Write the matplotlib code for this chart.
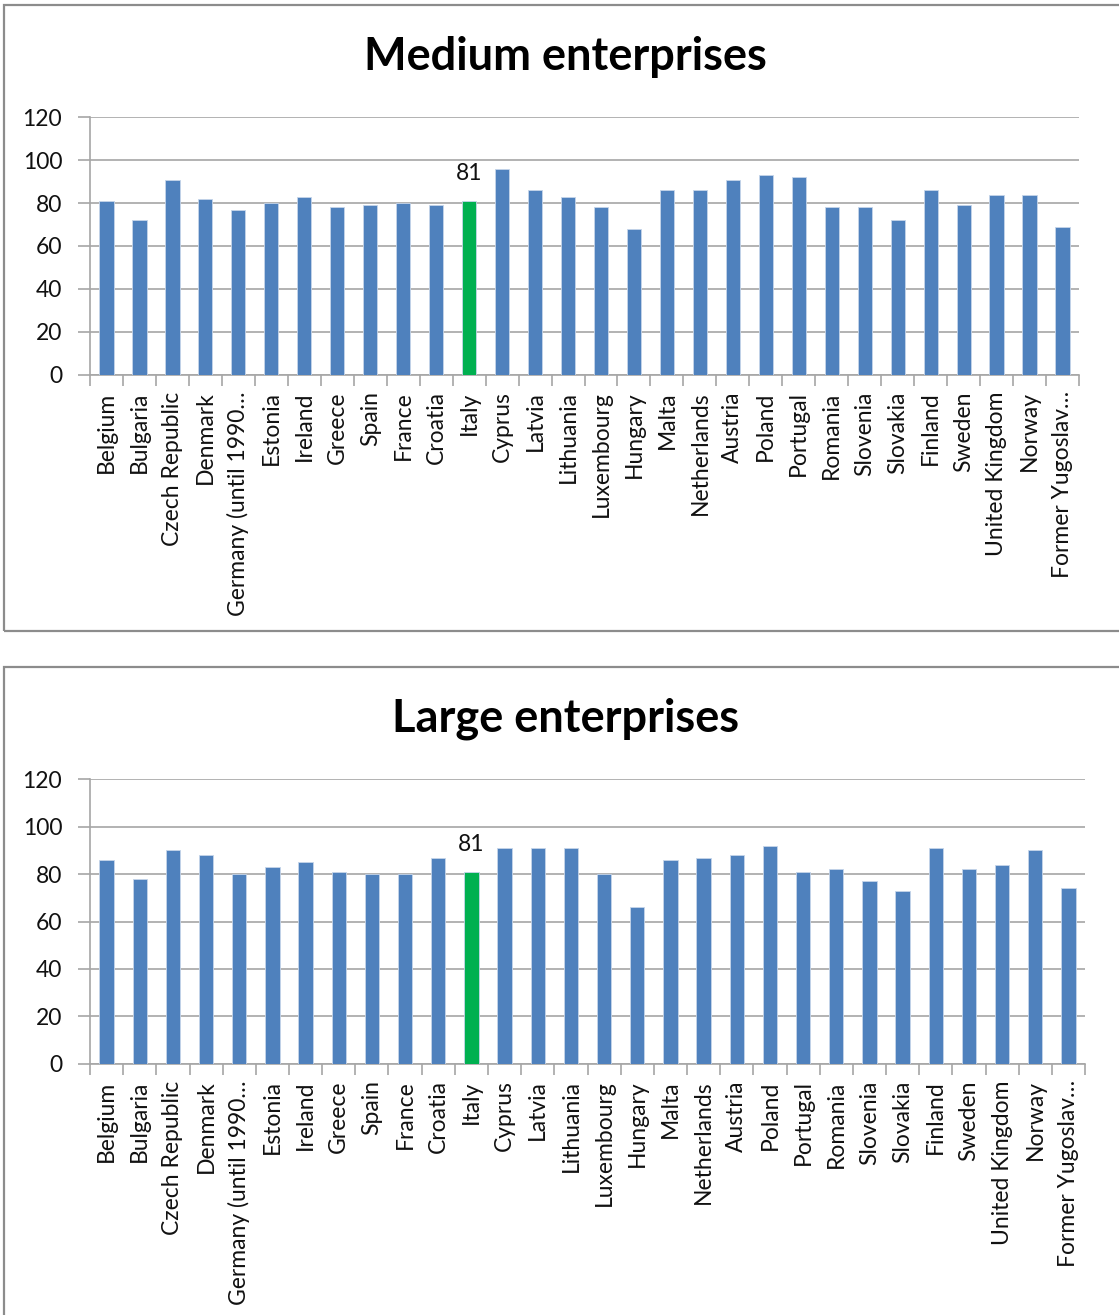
import matplotlib
matplotlib.use("Agg")
import matplotlib.pyplot as plt
from matplotlib.patches import Rectangle
import numpy as np

# ---- data -------------------------------------------------------------
countries = ["Belgium", "Bulgaria", "Czech Republic", "Denmark",
             "Germany (until 1990\u2026", "Estonia", "Ireland", "Greece",
             "Spain", "France", "Croatia", "Italy", "Cyprus", "Latvia",
             "Lithuania", "Luxembourg", "Hungary", "Malta", "Netherlands",
             "Austria", "Poland", "Portugal", "Romania", "Slovenia",
             "Slovakia", "Finland", "Sweden", "United Kingdom", "Norway",
             "Former Yugoslav\u2026"]

medium = [81, 72, 91, 82, 77, 80, 83, 78, 79, 80, 79, 81, 96, 86, 83,
          78, 68, 86, 86, 91, 93, 92, 78, 78, 72, 86, 79, 84, 84, 69]
large = [86, 78, 90, 88, 80, 83, 85, 81, 80, 80, 87, 81, 91, 91, 91,
         80, 66, 86, 87, 88, 92, 81, 82, 77, 73, 91, 82, 84, 90, 74]

highlight = "Italy"
y_ticks = [0, 20, 40, 60, 80, 100, 120]

# ---- style ------------------------------------------------------------
BLUE = "#4f81bd"
GREEN = "#00b050"
GRID = "#a6a6a6"
FRAME = "#8c8c8c"
TEXT = "#111111"
FONT = ["Lato", "DejaVu Sans"]

plt.rcParams["font.family"] = FONT

W, H = 1119, 1315
fig = plt.figure(figsize=(W / 100, H / 100), dpi=100)


def px_rect(x0, y0, x1, y1):
    """Axes rectangle in figure fractions from pixel edges (top-left origin)."""
    return [x0 / W, 1 - y1 / H, (x1 - x0) / W, (y1 - y0) / H]


def panel(frame_top, frame_bottom, title, title_y, ax_box, values):
    # outer chart frame
    fig.patches.append(Rectangle((4 / W, 1 - frame_bottom / H),
                                 (W + 10) / W, (frame_bottom - frame_top) / H,
                                 transform=fig.transFigure, fill=False,
                                 edgecolor=FRAME, linewidth=1.6, zorder=0))
    fig.text(0.505, 1 - title_y / H, title, ha="center", va="center",
             fontsize=32.5, fontweight="bold", color="black")

    ax = fig.add_axes(px_rect(*ax_box))
    x = np.arange(len(countries))
    colors = [GREEN if c == highlight else BLUE for c in countries]
    ax.bar(x, values, width=0.43, color=colors, edgecolor="#c6d5ea",
           linewidth=0.6, zorder=3)

    ax.set_xlim(-0.5, len(countries) - 0.5)
    ax.set_ylim(0, 120)
    ax.set_yticks(y_ticks)
    ax.yaxis.grid(True, color=GRID, linewidth=1.2, zorder=0)
    ax.tick_params(axis="y", length=9, width=1.2, color=GRID, pad=11,
                   labelsize=16.5, labelcolor=TEXT)

    ax.set_xticks(x)
    ax.set_xticklabels(countries, rotation=90)
    ax.set_xticks(np.arange(-0.5, len(countries)), minor=True)
    ax.tick_params(axis="x", which="major", length=0, pad=12,
                   labelsize=16.5, labelcolor=TEXT)
    ax.tick_params(axis="x", which="minor", length=8, width=1.2, color=GRID)

    for side in ("top", "right"):
        ax.spines[side].set_visible(False)
    for side in ("left", "bottom"):
        ax.spines[side].set_color(GRID)
        ax.spines[side].set_linewidth(1.2)

    i = countries.index(highlight)
    ax.annotate(f"{values[i]}", (x[i], values[i]), xytext=(0, 12),
                textcoords="offset points", ha="center", va="bottom",
                fontsize=16.5, color=TEXT)
    return ax


panel(5, 631, "Medium enterprises", 57, (90, 117.3, 1079, 374.7), medium)
panel(667, 1330, "Large enterprises", 719, (90, 779.3, 1085, 1063.7), large)

fig.savefig("out.png", dpi=100)
